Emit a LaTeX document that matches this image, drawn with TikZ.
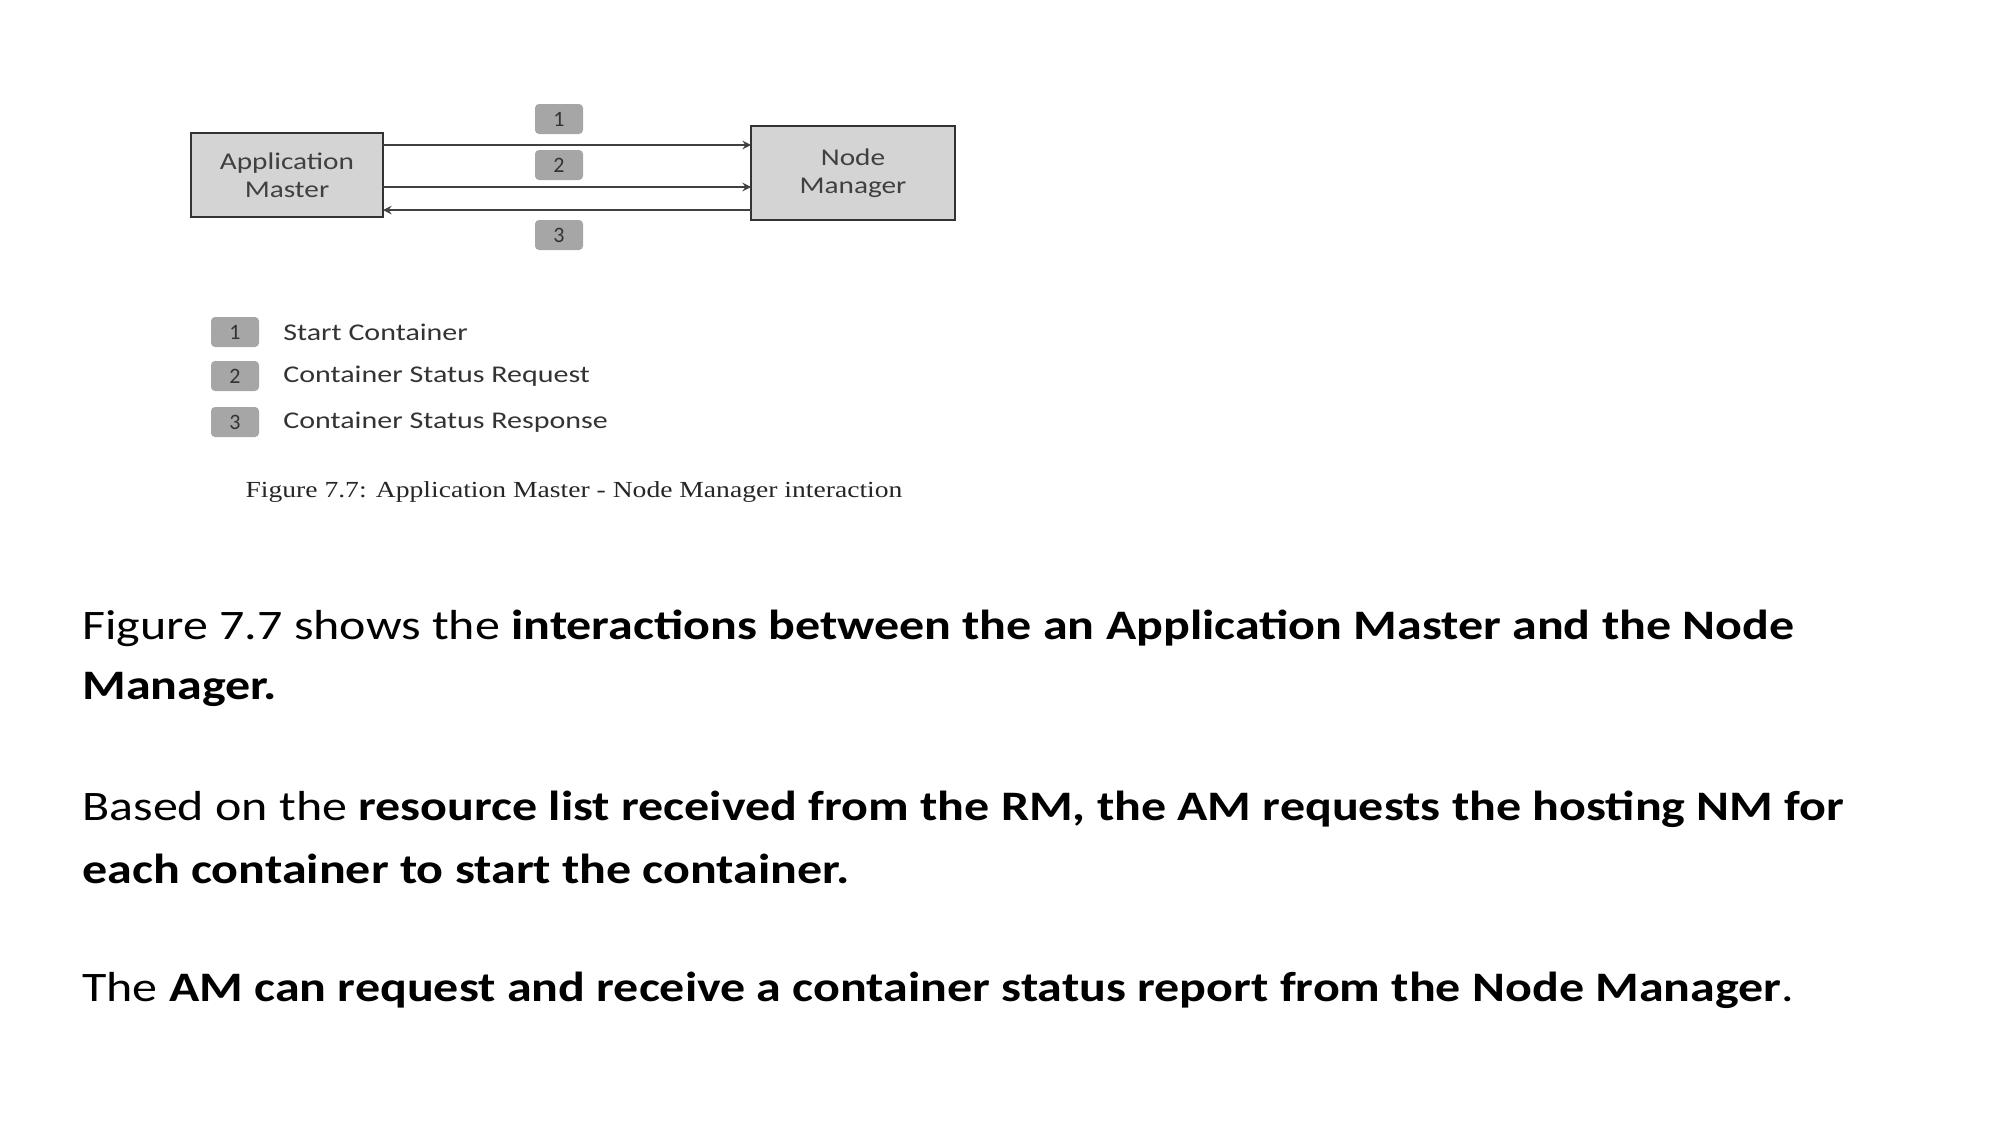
\documentclass[tikz,border=0pt]{standalone}
\usepackage{graphicx}
\usepackage{fontspec}
\setmainfont{Carlito}
\newfontfamily\capfont{Liberation Serif}
\newcommand{\wid}[2]{\scalebox{#1}[1]{#2}}
\begin{document}
\begin{tikzpicture}[x=0.5pt,y=-0.5pt,
 box/.style={draw=black!80,line width=1.2pt,fill=black!17,text=black!75,font=\fontsize{12}{14}\selectfont,align=center,inner sep=0},
 badge/.style={fill=black!35,rounded corners=2pt,minimum width=24pt,minimum height=15pt,inner sep=0,text=black!80,font=\fontsize{11}{12}\selectfont},
 leg/.style={anchor=west,text=black!80,font=\fontsize{12}{13}\selectfont,inner sep=0},
 arr/.style={draw=black!75,line width=0.9pt,->,>=stealth},
 body/.style={anchor=west,font=\fontsize{21}{30}\selectfont,inner sep=0}]
\useasboundingbox (0,0) rectangle (2000,1125);
\node[box,minimum width=96pt,minimum height=42pt] (am) at (287,175) {\wid{1.22}{Application}\\\wid{1.22}{Master}};
\node[box,minimum width=102pt,minimum height=47pt] (nm) at (853,173) {\wid{1.22}{Node}\\\wid{1.22}{Manager}};
\coordinate (a1) at (383,145); \coordinate (b1) at (751,145);
\coordinate (a2) at (383,187); \coordinate (b2) at (751,187);
\coordinate (a3) at (383,210); \coordinate (b3) at (751,210);
\draw[arr] (a1) -- (b1);
\draw[arr] (a2) -- (b2);
\draw[arr] (b3) -- (a3);
\node[badge] (n1) at (559,119) {1};
\node[badge] (n2) at (559,165) {2};
\node[badge] (n3) at (559,235) {3};
\node[badge] (l1) at (235,332) {1};
\node[badge] (l2) at (235,376) {2};
\node[badge] (l3) at (235,422) {3};
\node[leg] (t1) at (283,332) {\wid{1.25}{Start Container}};
\node[leg] (t2) at (283,376) {\wid{1.25}{Container Status Request}};
\node[leg] (t3) at (283,422) {\wid{1.25}{Container Status Response}};
\node[font=\capfont\fontsize{11.5}{13}\selectfont,text=black!85] (cap) at (574,492) {\wid{1.2}{Figure 7.7: Application Master - Node Manager interaction}};
\node[body] (p1) at (82,628) {\wid{1.19}{Figure 7.7 shows the \textbf{interactions between the an Application Master and the Node}}};
\node[body] (p1b) at (82,689) {\wid{1.19}{\textbf{Manager.}}};
\node[body] (p2) at (82,809) {\wid{1.19}{Based on the \textbf{resource list received from the RM, the AM requests the hosting NM for}}};
\node[body] (p2b) at (82,869) {\wid{1.19}{\textbf{each container to start the container.}}};
\node[body] (p3) at (82,990) {\wid{1.19}{The \textbf{AM can request and receive a container status report from the Node Manager}.}};
\end{tikzpicture}
\end{document}
